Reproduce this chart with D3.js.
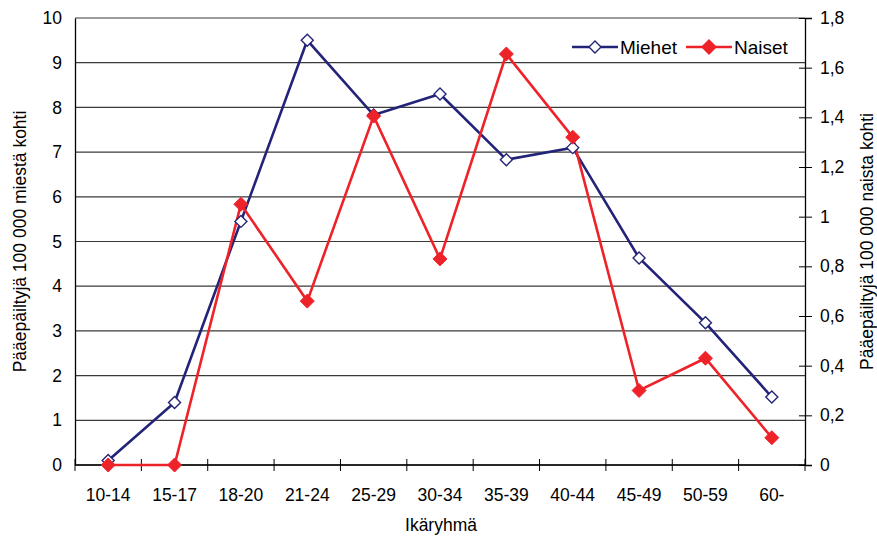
<!DOCTYPE html>
<html>
<head>
<meta charset="utf-8">
<script src="https://cdn.jsdelivr.net/npm/d3@7"></script>
<style>
  body { margin: 0; background: #fff; }
  text { font-family: "Liberation Sans", Arial, sans-serif; fill: #000; }
</style>
</head>
<body>
<div class="board"></div>
<script>
(function() {

  var categories = ['10-14', '15-17', '18-20', '21-24', '25-29', '30-34', '35-39', '40-44', '45-49', '50-59', '60-'];
  var miehet = [0.1, 1.4, 5.45, 9.5, 7.83, 8.3, 6.83, 7.1, 4.63, 3.18, 1.52];
  var naiset = [0, 0, 1.05, 0.66, 1.405, 0.83, 1.655, 1.32, 0.30, 0.43, 0.11];
  var leftTicks = [0, 1, 2, 3, 4, 5, 6, 7, 8, 9, 10];
  var rightTicks = [0, 0.2, 0.4, 0.6, 0.8, 1, 1.2, 1.4, 1.6, 1.8];

  var navy = '#232378';
  var red = '#ee2229';

  var margin = { left: 75, top: 18, right: 72, bottom: 75 };
  var width = 877, height = 540;
  var plotW = width - margin.left - margin.right;
  var plotH = height - margin.top - margin.bottom;

  var svg = d3.select('.board')
    .append('svg')
    .attr('width', width)
    .attr('height', height);

  var g = svg.append('g')
    .attr('transform', 'translate(' + margin.left + ',' + margin.top + ')');

  var x = d3.scaleBand().domain(categories).range([0, plotW]);
  var yL = d3.scaleLinear().domain([0, 10]).range([plotH, 0]);
  var yR = d3.scaleLinear().domain([0, 1.8]).range([plotH, 0]);

  var fmt = function(d) { return String(d).replace('.', ','); };

  // grid lines
  g.selectAll('.grid')
    .data(leftTicks)
    .enter()
    .append('line')
    .attr('x1', 0)
    .attr('x2', plotW)
    .attr('y1', function(d) { return yL(d); })
    .attr('y2', function(d) { return yL(d); })
    .style('stroke', '#3a3a3a')
    .style('stroke-width', 1.2);

  // left axis
  var left = g.append('g')
    .call(d3.axisLeft(yL).tickValues(leftTicks).tickSize(0).tickPadding(13));
  left.select('.domain').style('stroke', '#000').style('stroke-width', 1.3);
  left.selectAll('text').style('font-size', '17.5px');

  // right axis
  var right = g.append('g')
    .attr('transform', 'translate(' + plotW + ',0)')
    .call(d3.axisRight(yR).tickValues(rightTicks).tickFormat(fmt).tickSize(7).tickPadding(8));
  right.select('.domain').style('stroke', '#000').style('stroke-width', 1.3);
  right.selectAll('.tick line').attr('x1', -6).style('stroke', '#000');
  right.selectAll('text').style('font-size', '17.5px');

  // bottom axis
  var boundaries = d3.range(categories.length + 1).map(function(i) { return i * x.step(); });
  g.append('line')
    .attr('x1', 0).attr('x2', plotW)
    .attr('y1', plotH).attr('y2', plotH)
    .style('stroke', '#000').style('stroke-width', 1.3);
  g.selectAll('.xtick')
    .data(boundaries)
    .enter()
    .append('line')
    .attr('x1', function(d) { return d; })
    .attr('x2', function(d) { return d; })
    .attr('y1', plotH - 6)
    .attr('y2', plotH + 6)
    .style('stroke', '#000')
    .style('stroke-width', 1);
  g.selectAll('.xlabel')
    .data(categories)
    .enter()
    .append('text')
    .attr('x', function(d) { return x(d) + x.bandwidth() / 2; })
    .attr('y', plotH + 36)
    .style('font-size', '17.5px')
    .style('text-anchor', 'middle')
    .text(function(d) { return d; });

  // axis titles
  svg.append('text')
    .attr('x', margin.left + plotW / 2 + 1)
    .attr('y', 531)
    .style('font-size', '17.5px')
    .style('text-anchor', 'middle')
    .text('Ikäryhmä');

  svg.append('text')
    .attr('transform', 'translate(26,' + (margin.top + plotH / 2) + ') rotate(-90)')
    .style('font-size', '17.5px')
    .style('text-anchor', 'middle')
    .text('Pääepäiltyjä 100 000 miestä kohti');

  svg.append('text')
    .attr('transform', 'translate(873,' + (margin.top + plotH / 2) + ') rotate(-90)')
    .style('font-size', '17.5px')
    .style('text-anchor', 'middle')
    .text('Pääepäiltyjä 100 000 naista kohti');

  var cx = function(i) { return x(categories[i]) + x.bandwidth() / 2; };

  // lines
  var lineM = d3.line()
    .x(function(d, i) { return cx(i); })
    .y(function(d) { return yL(d); });
  var lineN = d3.line()
    .x(function(d, i) { return cx(i); })
    .y(function(d) { return yR(d); });

  g.append('path')
    .attr('d', lineM(miehet))
    .style('fill', 'none')
    .style('stroke', navy)
    .style('stroke-width', 2.6);

  g.append('path')
    .attr('d', lineN(naiset))
    .style('fill', 'none')
    .style('stroke', red)
    .style('stroke-width', 2.6);

  var diamond = function(s) {
    return 'M0,' + (-s) + 'L' + s + ',0L0,' + s + 'L' + (-s) + ',0Z';
  };

  g.selectAll('.mM')
    .data(miehet)
    .enter()
    .append('path')
    .attr('d', diamond(6))
    .attr('transform', function(d, i) { return 'translate(' + cx(i) + ',' + yL(d) + ')'; })
    .style('fill', '#fff')
    .style('stroke', navy)
    .style('stroke-width', 1.4);

  g.selectAll('.mN')
    .data(naiset)
    .enter()
    .append('path')
    .attr('d', diamond(7))
    .attr('transform', function(d, i) { return 'translate(' + cx(i) + ',' + yR(d) + ')'; })
    .style('fill', red)
    .style('stroke', red)
    .style('stroke-width', 1);

  // legend
  var legend = [
    { name: 'Miehet', color: navy, fill: '#fff', s: 6, x: 572 },
    { name: 'Naiset', color: red, fill: red, s: 7, x: 686 }
  ];
  var lg = svg.selectAll('.legend')
    .data(legend)
    .enter()
    .append('g')
    .attr('transform', function(d) { return 'translate(' + d.x + ',47)'; });
  lg.append('line')
    .attr('x1', 0).attr('x2', 46)
    .attr('y1', 0).attr('y2', 0)
    .style('stroke', function(d) { return d.color; })
    .style('stroke-width', 2.6);
  lg.append('path')
    .attr('d', function(d) { return diamond(d.s); })
    .attr('transform', 'translate(23,0)')
    .style('fill', function(d) { return d.fill; })
    .style('stroke', function(d) { return d.color; })
    .style('stroke-width', 1.4);
  lg.append('text')
    .attr('x', 48)
    .attr('y', 7)
    .style('font-size', '19px')
    .text(function(d) { return d.name; });

})();
</script>
</body>
</html>
